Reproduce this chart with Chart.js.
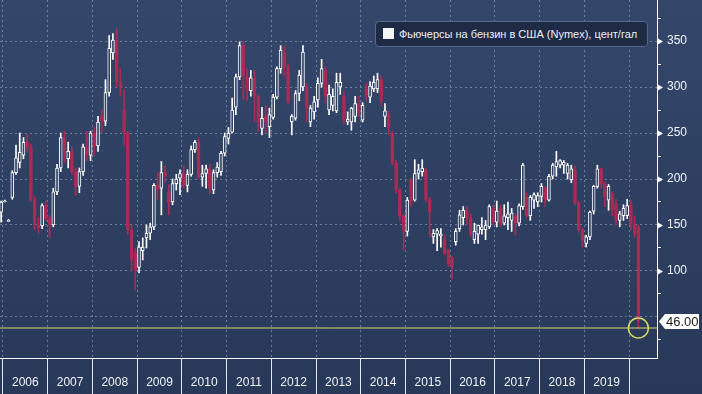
<!DOCTYPE html>
<html>
<head>
<meta charset="utf-8">
<script src="https://cdn.jsdelivr.net/npm/chart.js@4.4.1/dist/chart.umd.min.js"></script>
<style>
  html, body { margin: 0; padding: 0; background: #2b3c5e; }
  #wrap { position: relative; width: 702px; height: 394px; background: linear-gradient(#34476b, #283858); }
  #legend { position: absolute; left: 375px; top: 21px; width: 273px; height: 26px; box-sizing: border-box;
    background: #1f2a45; border: 1px solid #56688b; border-radius: 4px; color: #eef1f6;
    font: 11px "Liberation Sans", Arial, sans-serif; line-height: 24px; padding-left: 23px; white-space: nowrap; }
  #legend i { position: absolute; left: 7px; top: 6px; width: 11px; height: 11px; background: #f4f4f4; }
</style>
</head>
<body>
<div id="wrap">
  <canvas id="chart"></canvas>
  <div id="legend"><i></i>Фьючерсы на бензин в США (Nymex), цент/гал</div>
</div>
<script>
// monthly candles, cents per gallon
const months = [
  '2005-12',
  '2006-01','2006-02','2006-03','2006-04','2006-05','2006-06','2006-07','2006-08','2006-09','2006-10','2006-11','2006-12',
  '2007-01','2007-02','2007-03','2007-04','2007-05','2007-06','2007-07','2007-08','2007-09','2007-10','2007-11','2007-12',
  '2008-01','2008-02','2008-03','2008-04','2008-05','2008-06','2008-07','2008-08','2008-09','2008-10','2008-11','2008-12',
  '2009-01','2009-02','2009-03','2009-04','2009-05','2009-06','2009-07','2009-08','2009-09','2009-10','2009-11','2009-12',
  '2010-01','2010-02','2010-03','2010-04','2010-05','2010-06','2010-07','2010-08','2010-09','2010-10','2010-11','2010-12',
  '2011-01','2011-02','2011-03','2011-04','2011-05','2011-06','2011-07','2011-08','2011-09','2011-10','2011-11','2011-12',
  '2012-01','2012-02','2012-03','2012-04','2012-05','2012-06','2012-07','2012-08','2012-09','2012-10','2012-11','2012-12',
  '2013-01','2013-02','2013-03','2013-04','2013-05','2013-06','2013-07','2013-08','2013-09','2013-10','2013-11','2013-12',
  '2014-01','2014-02','2014-03','2014-04','2014-05','2014-06','2014-07','2014-08','2014-09','2014-10','2014-11','2014-12',
  '2015-01','2015-02','2015-03','2015-04','2015-05','2015-06','2015-07','2015-08','2015-09','2015-10','2015-11','2015-12',
  '2016-01','2016-02','2016-03','2016-04','2016-05','2016-06','2016-07','2016-08','2016-09','2016-10','2016-11','2016-12',
  '2017-01','2017-02','2017-03','2017-04','2017-05','2017-06','2017-07','2017-08','2017-09','2017-10','2017-11','2017-12',
  '2018-01','2018-02','2018-03','2018-04','2018-05','2018-06','2018-07','2018-08','2018-09','2018-10','2018-11','2018-12',
  '2019-01','2019-02','2019-03','2019-04','2019-05','2019-06','2019-07','2019-08','2019-09','2019-10','2019-11','2019-12',
  '2020-01','2020-02','2020-03'
];

const open = [
  164,
  175,154,180,207,218,226,240,235,178,150,149,171,
  157,150,186,212,245,222,230,208,192,208,235,226,
  250,236,268,263,294,337,351,305,275,250,145,120,
  104,122,136,141,148,193,190,207,186,175,195,201,
  206,193,205,232,239,202,206,211,188,207,208,228,
  244,251,278,311,345,312,296,310,290,255,268,257,
  267,289,320,338,322,262,266,293,300,300,262,273,
  286,304,318,275,280,274,300,290,262,262,268,282,
  264,298,289,298,298,308,268,270,250,217,188,160,
  143,199,177,206,208,210,177,137,140,138,134,123,
  114,132,146,158,166,158,134,140,145,145,148,168,
  153,168,152,158,155,160,152,170,180,160,177,175,
  181,190,177,203,213,215,215,206,199,210,174,145,
  130,137,165,192,211,195,177,184,173,155,160,160,
  172,150,148
];
const high = [
  176,
  177,156,209,237,250,245,249,238,181,158,173,176,
  160,190,216,250,252,240,235,212,212,238,252,252,
  256,268,275,308,356,358,364,320,297,252,150,125,
  132,136,150,152,195,207,219,214,194,200,205,210,
  214,210,236,242,244,215,215,216,210,218,230,250,
  256,288,314,349,350,320,318,318,291,278,280,277,
  292,322,345,345,325,270,296,318,345,304,280,290,
  310,330,322,302,298,315,315,295,273,278,290,290,
  283,304,306,312,315,312,282,274,252,220,190,162,
  180,201,221,216,221,212,180,145,146,146,139,124,
  116,146,166,170,170,162,152,150,158,155,172,172,
  176,172,172,175,168,162,173,217,185,182,185,185,
  195,192,205,217,230,221,220,217,215,214,176,147,
  139,165,193,215,212,197,194,186,178,165,172,178,
  177,160,150
];
const low = [
  153,
  175,154,178,205,212,222,230,176,145,141,146,155,
  136,148,183,208,218,212,205,182,185,204,220,220,
  225,230,250,258,290,330,300,290,236,140,100,79,
  98,112,125,134,145,178,161,196,161,172,188,183,
  190,186,203,229,200,192,190,184,184,202,204,225,
  238,250,270,308,286,285,290,262,252,248,250,245,
  265,287,315,312,282,248,264,285,296,262,257,265,
  278,300,283,270,274,272,292,260,259,253,262,268,
  262,285,283,295,294,280,257,248,215,185,155,123,
  138,170,176,200,203,175,137,130,122,126,118,105,
  91,128,143,150,150,137,130,130,140,134,146,150,
  148,148,150,145,143,139,149,167,158,155,168,170,
  175,170,176,200,203,212,206,200,196,172,142,126,
  126,134,162,190,190,170,166,160,150,148,155,157,
  145,136,38
];
const close = [
  175,
  176,155,207,223,229,240,235,178,150,147,171,157,
  150,186,212,245,228,230,208,192,208,235,226,250,
  236,262,263,294,342,351,305,300,250,145,112,101,
  126,126,141,148,193,189,207,203,174,195,200,206,
  193,205,232,240,202,206,211,190,207,213,228,246,
  250,275,311,345,312,296,310,290,262,266,262,270,
  289,320,340,322,284,268,293,313,338,277,277,284,
  304,320,290,292,290,305,305,264,265,277,282,272,
  280,291,301,305,308,285,274,255,218,188,160,143,
  177,175,206,210,212,177,164,141,144,140,119,108,
  105,143,161,166,158,140,143,150,148,150,170,153,
  165,152,160,162,163,152,171,215,160,180,183,182,
  192,177,203,215,219,220,218,215,211,174,145,134,
  137,164,192,211,195,181,192,166,155,162,168,171,
  150,140,46
];

const years = [2006, 2007, 2008, 2009, 2010, 2011, 2012, 2013, 2014, 2015, 2016, 2017, 2018, 2019];
const yTicks = [25, 50, 75, 100, 125, 150, 175, 200, 225, 250, 275, 300, 325, 350, 375];
const yLabels = [100, 150, 200, 250, 300, 350];

// month index from Jan 2006, candle in the middle of its month
const xs = months.map(m => {
  const [yy, mm] = m.split('-').map(Number);
  return (yy - 2006) * 12 + (mm - 1) + 0.5;
});
const xMin = -0.8, xMax = 175.5;
const yMin = 5.4, yMax = 394.6;

const xTicks = [];
years.forEach((y, i) => { xTicks.push(i * 12, i * 12 + 6); });
xTicks.push(years.length * 12);

const red = '#ad2a55';
const bodyFill = '#2f4165';
const yellow = '#d3dc62';
const gridCol = 'rgba(150,168,198,0.6)';
const up = close.map((c, i) => c >= open[i]);
const last = close.length - 1;
const lowLine = Math.min(...low);

Chart.defaults.font.family = '"Liberation Sans", Arial, sans-serif';

const markers = {
  id: 'markers',
  afterDraw(chart) {
    const ctx = chart.ctx, y = chart.scales.y, a = chart.chartArea;
    ctx.save();
    ctx.fillStyle = '#ffffff';
    yLabels.forEach(v => {
      const py = Math.round(y.getPixelForValue(v)) + 0.5;
      ctx.beginPath();
      ctx.moveTo(a.right, py - 3.5);
      ctx.lineTo(a.right + 6, py);
      ctx.lineTo(a.right, py + 3.5);
      ctx.fill();
    });
    // last price tag
    const price = close[last];
    const py = Math.round(y.getPixelForValue(price)) + 0.5;
    ctx.beginPath();
    ctx.moveTo(a.right + 2, py);
    ctx.lineTo(a.right + 8, py - 7.5);
    ctx.lineTo(chart.width - 3, py - 7.5);
    ctx.lineTo(chart.width - 3, py + 7.5);
    ctx.lineTo(a.right + 8, py + 7.5);
    ctx.closePath();
    ctx.fill();
    ctx.fillStyle = '#1a1a1a';
    ctx.font = '13px "Liberation Sans", Arial, sans-serif';
    ctx.textBaseline = 'middle';
    ctx.textAlign = 'left';
    ctx.fillText(price.toFixed(2), a.right + 9, py + 0.5);
    ctx.restore();
  }
};

new Chart(document.getElementById('chart'), {
  type: 'bar',
  data: {
    datasets: [
      {
        data: xs.map((x, i) => ({ x: x, y: [open[i], close[i]] })),
        backgroundColor: up.map(u => u ? bodyFill : red),
        borderColor: up.map(u => u ? '#ffffff' : red),
        borderWidth: 1,
        borderSkipped: false,
        barThickness: 3,
        grouped: false,
        order: 1
      },
      {
        data: xs.map((x, i) => ({ x: x, y: [low[i], high[i]] })),
        backgroundColor: up.map(u => u ? '#ffffff' : red),
        barThickness: 1,
        grouped: false,
        order: 2
      },
      {
        type: 'line',
        data: [{ x: xMin, y: lowLine }, { x: xMax, y: lowLine }],
        borderColor: yellow,
        borderWidth: 1,
        pointRadius: 0,
        order: 0
      },
      {
        type: 'line',
        data: [{ x: xs[last], y: lowLine }],
        showLine: false,
        pointRadius: 10,
        pointBorderWidth: 1.5,
        pointBorderColor: yellow,
        pointBackgroundColor: 'rgba(0,0,0,0)',
        order: 0
      }
    ]
  },
  options: {
    responsive: true,
    maintainAspectRatio: false,
    animation: false,
    events: [],
    layout: { padding: 0, autoPadding: false },
    plugins: { legend: { display: false }, tooltip: { enabled: false } },
    scales: {
      x: {
        type: 'linear',
        min: xMin,
        max: xMax,
        offset: false,
        afterBuildTicks: s => { s.ticks = xTicks.map(v => ({ value: v })); },
        afterFit: s => { s.height = 36; s.paddingLeft = 0; s.paddingRight = 0; },
        grid: {
          offset: false,
          color: c => (c.tick && c.tick.value % 12 === 0) ? gridCol : 'rgba(0,0,0,0)',
          tickColor: c => (c.tick && c.tick.value % 12 === 0) ? '#e3e8f0' : 'rgba(0,0,0,0)',
          tickLength: 36
        },
        border: { display: true, color: '#ffffff', width: 1, dash: [2, 3] },
        ticks: {
          autoSkip: false,
          maxRotation: 0,
          padding: -19,
          color: '#f0f3f8',
          font: { size: 12 },
          callback: v => (v % 12 === 6) ? String(years[(v - 6) / 12]) : ''
        }
      },
      y: {
        position: 'right',
        min: yMin,
        max: yMax,
        afterBuildTicks: s => { s.ticks = yTicks.map(v => ({ value: v })); },
        afterFit: s => { s.width = 45; s.paddingTop = 0; s.paddingBottom = 0; },
        grid: {
          color: c => (c.tick && c.tick.value % 50 === 0) ? gridCol : 'rgba(0,0,0,0)',
          tickColor: c => (c.tick && c.tick.value % 50 === 0) ? 'rgba(0,0,0,0)' : '#ffffff',
          tickLength: 4
        },
        border: { display: true, color: '#ffffff', width: 1, dash: [2, 3] },
        ticks: {
          autoSkip: false,
          padding: 6,
          color: '#f0f3f8',
          font: { size: 12 },
          callback: v => yLabels.includes(v) ? String(v) : ''
        }
      }
    }
  },
  plugins: [markers]
});
</script>
</body>
</html>
